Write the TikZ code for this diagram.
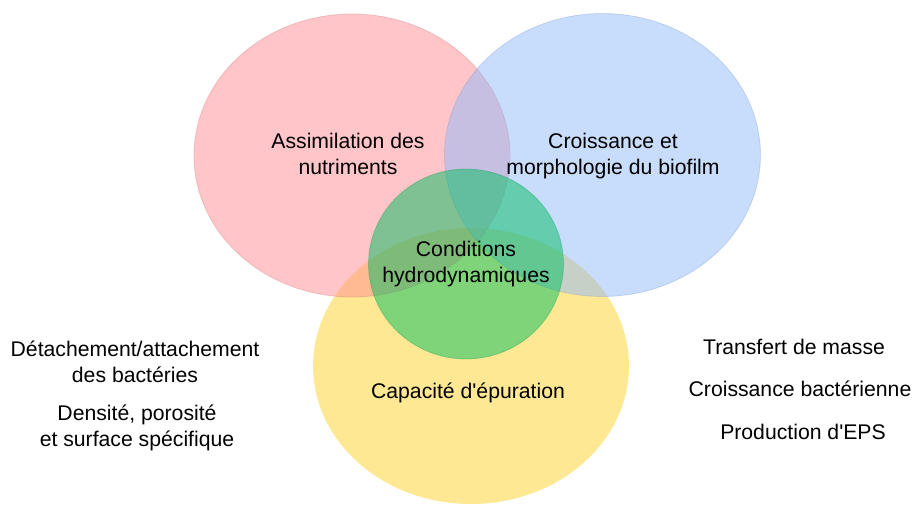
\documentclass[tikz,border=0pt]{standalone}
\usepackage{fontspec}
\setmainfont{Liberation Sans}
\usetikzlibrary{shapes.geometric}
\definecolor{cred}{RGB}{255,140,145}
\definecolor{cblue}{RGB}{145,185,250}
\definecolor{cyellow}{RGB}{255,210,40}
\definecolor{cgreen}{RGB}{0,190,95}
\begin{document}
\begin{tikzpicture}[x=1pt,y=-1pt,
  blob/.style={ellipse,inner sep=0pt,fill opacity=0.5,draw opacity=0.3,line width=0.8pt},
  lbl/.style={align=center,inner sep=0pt,font=\fontsize{21.2}{26.5}\selectfont},
]
\useasboundingbox (0,0) rectangle (913,504);
\node[blob,fill=cyellow,draw opacity=0,minimum width=316pt,minimum height=276pt] (yellow) at (471,366) {};
\node[blob,fill=cred,draw=cred!80!black,minimum width=316pt,minimum height=283pt] (red) at (352,155.5) {};
\node[blob,fill=cblue,draw=cblue!80!black,minimum width=316pt,minimum height=283pt] (blue) at (602.5,155) {};
\node[blob,fill=cgreen,fill opacity=0.5,draw=cgreen!80!black,minimum width=195pt,minimum height=190pt] (green) at (466,264) {};
\node[lbl] (t1) at (348,154) {Assimilation des\\nutriments};
\node[lbl] (t2) at (613,156) {Croissance et\\morphologie du biofilm};
\node[lbl] (t3) at (466,264) {Conditions\\hydrodynamiques};
\node[lbl] (t4) at (468,393) {Capacité d\textquotesingle épuration};
\node[lbl] (t5) at (135,362) {Détachement/attachement\\des bactéries};
\node[lbl] (t6) at (137,428) {Densité, porosité\\et surface spécifique};
\node[lbl] (t7) at (794,347) {Transfert de masse};
\node[lbl] (t8) at (800,389) {Croissance bactérienne};
\node[lbl] (t9) at (803,432) {Production d\textquotesingle EPS};
\end{tikzpicture}
\end{document}
